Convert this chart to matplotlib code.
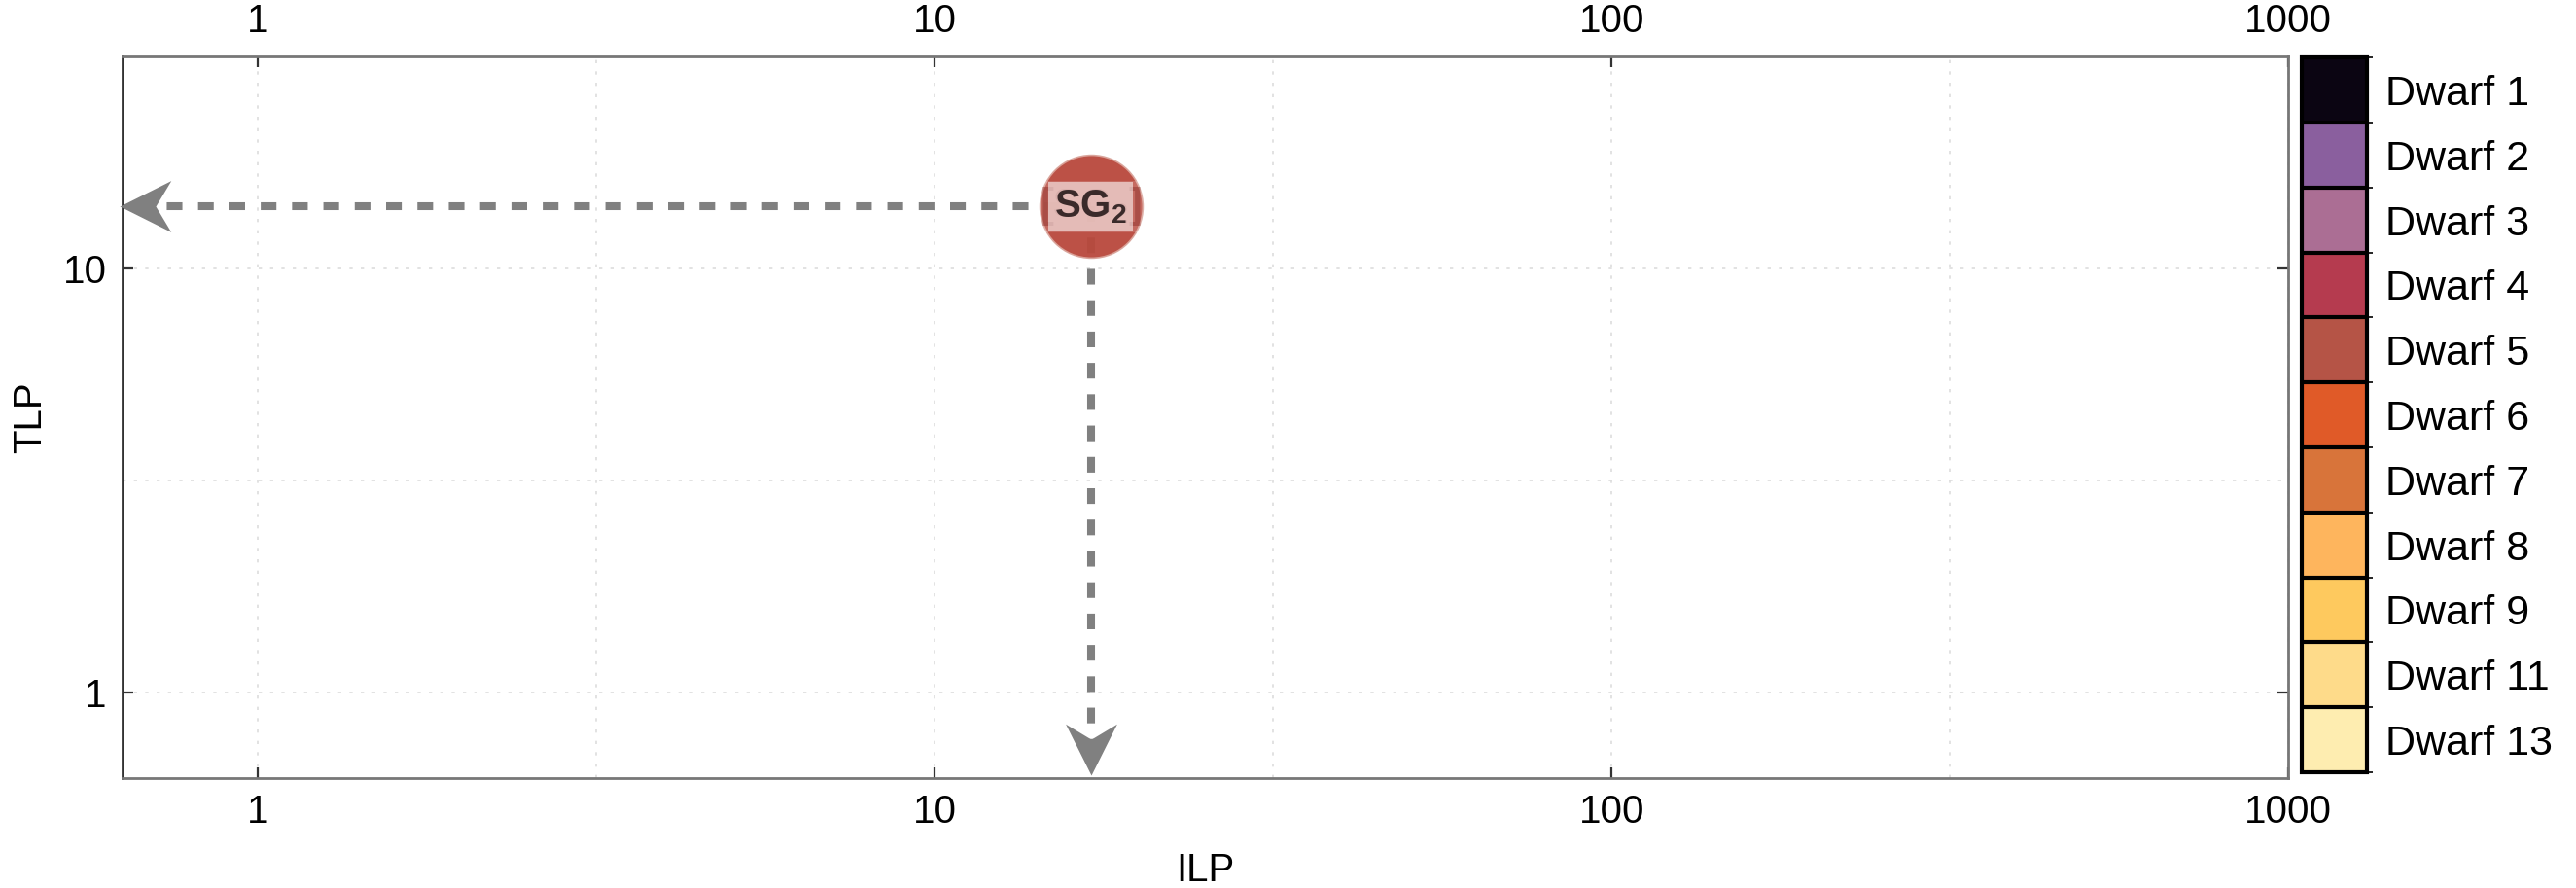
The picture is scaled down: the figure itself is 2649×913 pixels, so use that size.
import matplotlib
matplotlib.use("Agg")
import matplotlib.pyplot as plt
from matplotlib.colors import ListedColormap, BoundaryNorm
from matplotlib.ticker import FixedLocator, NullFormatter
from matplotlib.path import Path
import numpy as np

plt.rcParams['font.family'] = ['Liberation Sans', 'DejaVu Sans']
plt.rcParams['mathtext.fontset'] = 'custom'
plt.rcParams['mathtext.bf'] = 'Liberation Sans:bold'
plt.rcParams['mathtext.rm'] = 'Liberation Sans'

# data
ilp = [17.0]
tlp = [14.0]
point_labels = ["SG$_\\mathbf{2}$"]
point_color = "#b9483c"

dwarfs = ["Dwarf 1", "Dwarf 2", "Dwarf 3", "Dwarf 4", "Dwarf 5", "Dwarf 6",
          "Dwarf 7", "Dwarf 8", "Dwarf 9", "Dwarf 11", "Dwarf 13"]
dwarf_colors = ["#0b0512", "#8a5f9e", "#ab6e94", "#b53b4f", "#b55446", "#e05a28",
                "#d8743a", "#feb55d", "#fec95e", "#fedb8a", "#feedb0"]

xticks = [1, 10, 100, 1000]
yticks = [1, 10]
xlim = [10 ** -0.2, 1000]
ylim = [10 ** -0.2, 10 ** 1.5]

fig = plt.figure(figsize=(13.245, 4.565), dpi=200)
ax = fig.add_axes([0.0476, 0.1243, 0.8407, 0.8122])

ax.set_xscale("log")
ax.set_yscale("log")
ax.set_xlim(xlim)
ax.set_ylim(ylim)

ax.xaxis.set_major_locator(FixedLocator(xticks))
ax.yaxis.set_major_locator(FixedLocator(yticks))
ax.set_xticklabels([str(t) for t in xticks])
ax.set_yticklabels([str(t) for t in yticks])
ax.xaxis.set_minor_locator(FixedLocator([10 ** (k + 0.5) for k in range(-1, 3)]))
ax.yaxis.set_minor_locator(FixedLocator([10 ** (k + 0.5) for k in range(-1, 2)]))
ax.xaxis.set_minor_formatter(NullFormatter())
ax.yaxis.set_minor_formatter(NullFormatter())

ax.tick_params(which="major", direction="in", length=4, width=0.8, labelsize=14.5,
               top=True, right=True, labeltop=True, pad=6, colors="#333333", labelcolor="black")
ax.tick_params(which="minor", length=0)
ax.grid(True, which="both", linestyle=(0, (2, 5)), color="#dddddd", linewidth=0.6)

for s in ax.spines.values():
    s.set_color("#777777")
    s.set_linewidth(1.0)
ax.spines["left"].set_color("#333333")

ax.set_xlabel("ILP", fontsize=14.5, labelpad=8)
ax.set_ylabel("TLP", fontsize=14.5, labelpad=5)

# arrow heads with a notched back, tip at the origin
head_left = Path([(0, 0), (1, 0.5), (0.7, 0), (1, -0.5), (0, 0)],
                 [Path.MOVETO, Path.LINETO, Path.LINETO, Path.LINETO, Path.CLOSEPOLY])
head_down = Path([(0, 0), (0.5, 1), (0, 0.7), (-0.5, 1), (0, 0)],
                 [Path.MOVETO, Path.LINETO, Path.LINETO, Path.LINETO, Path.CLOSEPOLY])

# dashed arrows to the axes
gray = "#808080"
for x, y in zip(ilp, tlp):
    xh = xlim[0] * 1.1
    yh = ylim[0] * 1.12
    ax.plot([x, xh], [y, y], color=gray, lw=2.9, linestyle=(0, (2, 2)), zorder=2,
            dash_capstyle="butt")
    ax.plot([x, x], [y, yh], color=gray, lw=2.9, linestyle=(0, (2, 2)), zorder=2,
            dash_capstyle="butt")
    ax.plot([xlim[0] * 0.99], [y], marker=head_left, ms=38, color=gray, mew=0, zorder=3,
            clip_on=False)
    ax.plot([x], [ylim[0] * 1.015], marker=head_down, ms=38, color=gray, mew=0, zorder=3,
            clip_on=False)

ax.scatter(ilp, tlp, s=1450, color=point_color, alpha=0.95, edgecolors="#d9a39a",
           linewidths=0.6, zorder=4)
for x, y, lab in zip(ilp, tlp, point_labels):
    ax.text(x, y, "[" + lab + "]", fontsize=15, fontweight="bold", color="#8a2e28",
            alpha=0.45, ha="center", va="center", zorder=5,
            bbox=dict(boxstyle="square,pad=0.1", facecolor="white", alpha=0.15, lw=0))
    ax.text(x, y, lab, fontsize=14.5, fontweight="bold", color="#3a2a2a",
            ha="center", va="center", zorder=6,
            bbox=dict(boxstyle="square,pad=0.15", facecolor="white", alpha=0.55, lw=0))

# discrete colour legend
cax = fig.add_axes([0.8935, 0.1303, 0.0253, 0.8050])
n = len(dwarfs)
cmap = ListedColormap(dwarf_colors[::-1])
norm = BoundaryNorm(np.arange(n + 1), n)
sm = plt.cm.ScalarMappable(cmap=cmap, norm=norm)
cb = fig.colorbar(sm, cax=cax, drawedges=True, ticks=np.arange(n) + 0.5)
cb.set_ticklabels(dwarfs[::-1])
cb.ax.tick_params(length=0, labelsize=15.5, pad=7)
cb.outline.set_edgecolor("black")
cb.outline.set_linewidth(1.5)
cb.dividers.set_color("black")
cb.dividers.set_linewidth(1.5)

fig.savefig("out.png", dpi=200)
